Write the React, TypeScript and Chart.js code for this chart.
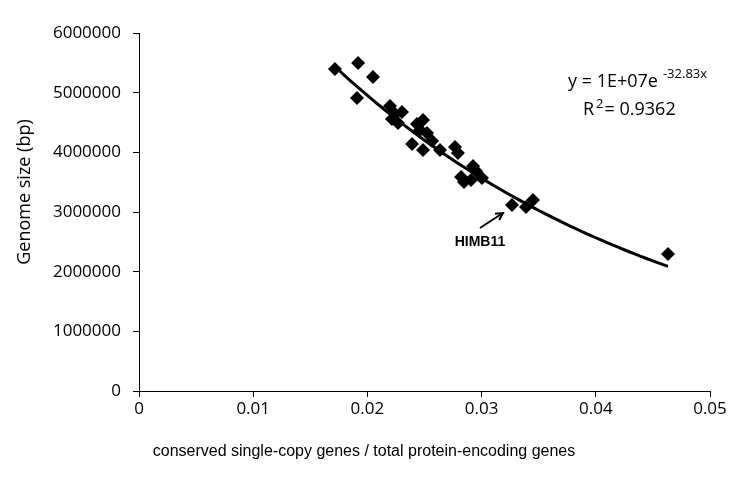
import React, { useEffect, useRef } from "react";
import { Chart, registerables } from "chart.js";

Chart.register(...registerables);

// Ratio of conserved single-copy genes to total protein-encoding genes
const ratioValues: number[] = [
  0.01716, 0.01918, 0.02049, 0.01909, 0.02198, 0.02303, 0.02215, 0.02268, 0.02242,
  0.02434, 0.02487, 0.02461, 0.02522, 0.02391, 0.02487, 0.02566, 0.02636, 0.02767,
  0.02793, 0.02925, 0.0282, 0.02846, 0.02907, 0.03003, 0.02951, 0.03266, 0.03389,
  0.0345, 0.04632,
];
// Genome size (bp)
const genomeSizes: number[] = [
  5396000, 5497000, 5262000, 4910000, 4776000, 4676000, 4558000, 4491000, 4642000,
  4475000, 4542000, 4374000, 4324000, 4139000, 4039000, 4190000, 4039000, 4089000,
  3989000, 3771000, 3586000, 3503000, 3536000, 3570000, 3687000, 3117000, 3084000,
  3201000, 2296000,
];
const yTicks: number[] = [0, 1000000, 2000000, 3000000, 4000000, 5000000, 6000000];
const xTicks: number[] = [0, 0.01, 0.02, 0.03, 0.04, 0.05];
// Exponential trendline y = a * e^(b x)
const trendA = 9550000;
const trendB = -32.83;
const trendSteps = 60;

const equationMain = "y = 1E+07e";
const equationExp = "-32.83x";
const rSquaredLabel = "0.9362";
const annotationLabel = "HIMB11";
const xTitle = "conserved single-copy genes / total protein-encoding genes";
const yTitle = "Genome size (bp)";

const tickFont = "'Open Sans', 'Noto Sans', sans-serif";

export default function App() {
  const ref = useRef<HTMLCanvasElement | null>(null);

  useEffect(() => {
    if (!ref.current) return;
    const xMin = Math.min(...ratioValues);
    const xMax = Math.max(...ratioValues);
    const trend: { x: number; y: number }[] = [];
    for (let i = 0; i <= trendSteps; i++) {
      const x = xMin + ((xMax - xMin) * i) / trendSteps;
      trend.push({ x, y: trendA * Math.exp(trendB * x) });
    }
    const points = ratioValues.map((x, i) => ({ x, y: genomeSizes[i] }));
    const himb = points[25];

    const overlay = {
      id: "overlay",
      afterDraw(chart: any) {
        const ctx = chart.ctx as CanvasRenderingContext2D;
        const xs = chart.scales.x;
        const ys = chart.scales.y;
        ctx.save();
        ctx.fillStyle = "#000";
        // y title
        ctx.save();
        ctx.translate(25, 192);
        ctx.rotate(-Math.PI / 2);
        ctx.font = `18px ${tickFont}`;
        ctx.textAlign = "center";
        ctx.textBaseline = "middle";
        ctx.fillText(yTitle, 0, 0);
        ctx.restore();
        // x title
        ctx.font = "16px 'Liberation Sans', Arial, sans-serif";
        ctx.textAlign = "center";
        ctx.textBaseline = "middle";
        ctx.fillText(xTitle, 364, 452);
        // equation
        ctx.textAlign = "left";
        ctx.textBaseline = "alphabetic";
        ctx.font = `18px ${tickFont}`;
        ctx.fillText(equationMain, 568, 87);
        let w = ctx.measureText(equationMain).width;
        ctx.font = `13px ${tickFont}`;
        ctx.fillText(equationExp, 568 + w + 5, 78);
        ctx.font = `18px ${tickFont}`;
        ctx.fillText("R", 583, 115);
        w = ctx.measureText("R").width;
        ctx.font = `13px ${tickFont}`;
        ctx.fillText("2", 583 + w + 2, 108);
        const w2 = ctx.measureText("2").width;
        ctx.font = `18px ${tickFont}`;
        ctx.fillText("= " + rSquaredLabel, 583 + w + w2 + 3, 115);
        // annotation
        const px = xs.getPixelForValue(himb.x);
        const py = ys.getPixelForValue(himb.y);
        ctx.font = "bold 14px 'Liberation Sans', Arial, sans-serif";
        ctx.textAlign = "center";
        ctx.textBaseline = "middle";
        ctx.fillText(annotationLabel, px - 32, py + 37);
        // arrow
        const x0 = px - 32, y0 = py + 23;
        const x1 = px - 9, y1 = py + 8;
        ctx.strokeStyle = "#000";
        ctx.lineWidth = 2;
        ctx.beginPath();
        ctx.moveTo(x0, y0);
        ctx.lineTo(x1, y1);
        ctx.stroke();
        const ang = Math.atan2(y1 - y0, x1 - x0);
        ctx.beginPath();
        ctx.moveTo(x1 - 8 * Math.cos(ang - 0.5), y1 - 8 * Math.sin(ang - 0.5));
        ctx.lineTo(x1, y1);
        ctx.lineTo(x1 - 8 * Math.cos(ang + 0.5), y1 - 8 * Math.sin(ang + 0.5));
        ctx.stroke();
        ctx.restore();
      },
    };

    const chart = new Chart(ref.current, {
      type: "scatter",
      data: {
        datasets: [
          {
            label: "trend",
            data: trend,
            showLine: true,
            borderColor: "#000",
            borderWidth: 3,
            pointRadius: 0,
            fill: false,
            order: 0,
          } as any,
          {
            label: "genomes",
            data: points,
            pointStyle: "rectRot",
            pointRadius: 7,
            backgroundColor: "#000",
            borderColor: "#000",
            borderWidth: 0,
            order: 1,
          },
        ],
      },
      plugins: [overlay],
      options: {
        animation: false,
        responsive: true,
        maintainAspectRatio: false,
        layout: { padding: { top: 33, right: 40, left: 0, bottom: 0 } },
        plugins: {
          legend: { display: false },
          tooltip: { enabled: false },
        },
        scales: {
          x: {
            type: "linear",
            min: 0,
            max: 0.05,
            afterBuildTicks: (s: any) => {
              s.ticks = xTicks.map((v) => ({ value: v }));
            },
            afterFit: (s: any) => {
              s.height = 93;
            },
            ticks: {
              color: "#000",
              font: { family: tickFont, size: 17 },
              padding: 2,
              maxRotation: 0,
              callback: (v: any) => String(+Number(v).toFixed(2)),
            },
            grid: {
              drawOnChartArea: false,
              drawTicks: true,
              tickLength: 6,
              color: "#000",
              lineWidth: 1,
            },
            border: { display: true, color: "#000", width: 1 },
          },
          y: {
            type: "linear",
            min: 0,
            max: 6000000,
            afterBuildTicks: (s: any) => {
              s.ticks = yTicks.map((v) => ({ value: v }));
            },
            afterFit: (s: any) => {
              s.width = 139;
            },
            ticks: {
              color: "#000",
              font: { family: tickFont, size: 17 },
              padding: 12,
              callback: (v: any) => String(v),
            },
            grid: {
              drawOnChartArea: false,
              drawTicks: true,
              tickLength: 6,
              color: "#000",
              lineWidth: 1,
            },
            border: { display: true, color: "#000", width: 1 },
          },
        },
      },
    });
    return () => chart.destroy();
  }, []);

  return (
    <div style={{ position: "absolute", left: 0, top: 0, width: 750, height: 484, background: "#fff" }}>
      <canvas ref={ref} />
    </div>
  );
}
